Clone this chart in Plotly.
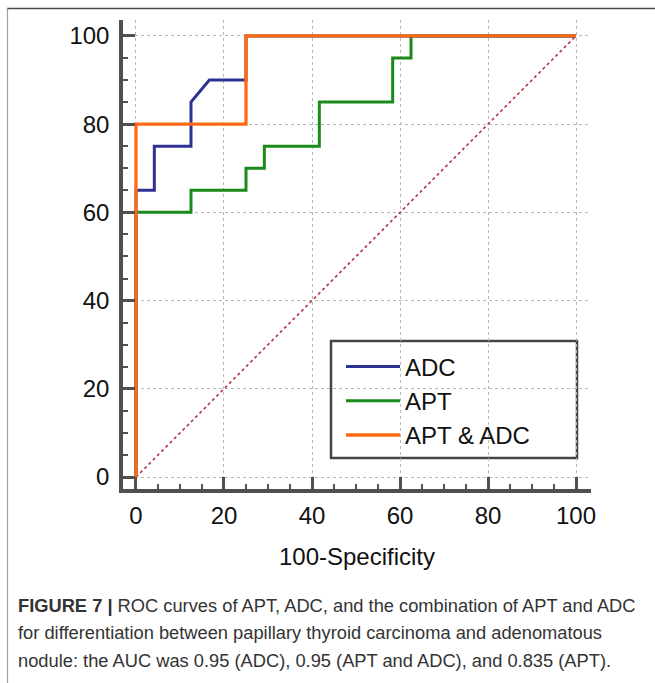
import plotly.graph_objects as go

# ---- data (x = 100-Specificity, y = Sensitivity) ----
adc_x = [0, 0, 4.17, 4.17, 12.5, 12.5, 16.67, 25, 25, 100]
adc_y = [0, 65, 65, 75, 75, 85, 90, 90, 100, 100]

apt_x = [0, 0, 12.5, 12.5, 25, 25, 29.17, 29.17, 41.67, 41.67, 58.33, 58.33, 62.5, 62.5, 100]
apt_y = [0, 60, 60, 65, 65, 70, 70, 75, 75, 85, 85, 95, 95, 100, 100]

combo_x = [0, 0, 25, 25, 100]
combo_y = [0, 80, 80, 100, 100]

diag_x = [0, 100]
diag_y = [0, 100]

tick_vals = [0, 20, 40, 60, 80, 100]
tick_text = ["0", "20", "40", "60", "80", "100"]

caption_lines = [
    "<b>FIGURE 7 |</b> ROC curves of APT, ADC, and the combination of APT and ADC",
    "for differentiation between papillary thyroid carcinoma and adenomatous",
    "nodule: the AUC was 0.95 (ADC), 0.95 (APT and ADC), and 0.835 (APT).",
]

# ---- figure ----
W, H = 655, 683
L, R, T, B = 123, 64, 20, 194
pw, ph = W - L - R, H - T - B

def px(xp):
    return (xp - L) / pw

def py(yp):
    return (H - B - yp) / ph

fig = go.Figure()
fig.add_trace(go.Scatter(x=diag_x, y=diag_y, mode="lines", showlegend=False,
                         line=dict(color="#B0303C", width=1.6, dash="dot")))
fig.add_trace(go.Scatter(x=apt_x, y=apt_y, mode="lines", name="APT", legendrank=2,
                         line=dict(color="#1A8A1A", width=3)))
fig.add_trace(go.Scatter(x=adc_x, y=adc_y, mode="lines", name="ADC", legendrank=1,
                         line=dict(color="#2E3192", width=3)))
fig.add_trace(go.Scatter(x=combo_x, y=combo_y, mode="lines", name="APT & ADC", legendrank=3,
                         line=dict(color="#FF6A13", width=3.3)))

axis_common = dict(
    showline=True, linecolor="#505050", linewidth=3.5, mirror=False,
    ticks="inside", ticklen=12, tickwidth=2.5, tickcolor="#505050",
    tickvals=tick_vals, ticktext=tick_text,
    showgrid=True, gridcolor="#B8B8B8", gridwidth=1, griddash="dot",
    zeroline=False,
    minor=dict(dtick=5, tick0=0, ticks="inside", ticklen=5, tickwidth=2, tickcolor="#505050", showgrid=False),
    tickfont=dict(family="Liberation Sans, Arial", size=24, color="#111111"),
)

fig.update_layout(
    width=W, height=H,
    margin=dict(l=L, r=R, t=T, b=B),
    paper_bgcolor="white", plot_bgcolor="white",
    xaxis=dict(range=[-2.95, 103.4], ticklabelstandoff=2,
               title=dict(text="100-Specificity", standoff=22,
                          font=dict(family="Liberation Sans, Arial", size=24, color="#111111")),
               **axis_common),
    yaxis=dict(range=[-2.7, 103.6], ticklabelstandoff=5, **axis_common),
    legend=dict(x=px(341), y=py(344.5), xanchor="left", yanchor="top",
                bgcolor="rgba(0,0,0,0)", borderwidth=0, itemwidth=54,
                font=dict(family="Liberation Sans, Arial", size=24, color="#111111")),
    showlegend=True,
)

# legend frame
fig.add_shape(type="rect", xref="paper", yref="paper",
              x0=px(331), x1=px(577), y0=py(458), y1=py(341),
              line=dict(color="#444444", width=2.5), fillcolor="white", layer="between")

# outer figure frame (top and left edges)
fig.add_shape(type="line", xref="paper", yref="paper",
              x0=px(7), x1=px(656), y0=py(8.5), y1=py(8.5),
              line=dict(color="#4A4A4A", width=1.3))
fig.add_shape(type="line", xref="paper", yref="paper",
              x0=px(7.5), x1=px(7.5), y0=py(8.5), y1=py(684),
              line=dict(color="#A0A0A0", width=1.2))

for i, line in enumerate(caption_lines):
    fig.add_annotation(text=line, xref="paper", yref="paper",
                       x=px(16), y=py(605 + 27.5 * i), xanchor="left", yanchor="middle",
                       showarrow=False, align="left",
                       font=dict(family="Liberation Sans, Arial", size=18.3, color="#333333"))

fig.write_html("out.html", config={"displayModeBar": False},
               post_script="document.body.style.margin='0';document.body.style.padding='0';")
